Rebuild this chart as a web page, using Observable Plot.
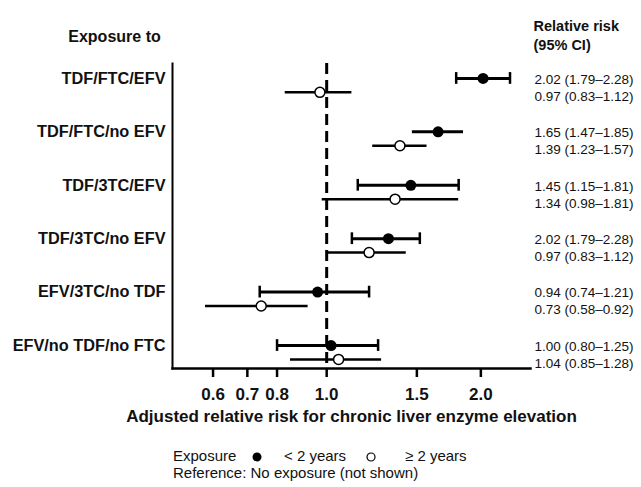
<!DOCTYPE html>
<html>
<head>
<meta charset="utf-8">
<script src="https://cdn.jsdelivr.net/npm/d3@7"></script>
<script src="https://cdn.jsdelivr.net/npm/@observablehq/plot@0.6"></script>
<style>
  body { margin: 0; background: #fff; font-family: "Liberation Sans", Arial, sans-serif; color: #111; }
  #wrap { position: relative; width: 641px; height: 487px; }
  #legend { position: absolute; left: 0; top: 447px; width: 641px; font-size: 15px; line-height: 18px; }
  #legend span, #legend svg { position: absolute; white-space: nowrap; }
</style>
</head>
<body>
<div id="wrap">
  <div id="chart"></div>
  <div id="legend">
    <span style="left:173px;top:0">Exposure</span>
    <svg style="left:252px;top:4.5px" width="10" height="10"><circle cx="5" cy="5" r="4.5" fill="#000"/></svg>
    <span style="left:284px;top:0">&lt; 2 years</span>
    <svg style="left:366px;top:4.5px" width="10" height="10"><circle cx="5" cy="5" r="4" fill="#fff" stroke="#000" stroke-width="1.2"/></svg>
    <span style="left:405px;top:0">≥ 2 years</span>
    <span style="left:173px;top:17px">Reference: No exposure (not shown)</span>
  </div>
</div>
<script>
// Exposure groups (rows, top to bottom)
const groups = ["TDF/FTC/EFV", "TDF/FTC/no EFV", "TDF/3TC/EFV", "TDF/3TC/no EFV", "EFV/3TC/no TDF", "EFV/no TDF/no FTC"];

// < 2 years exposure (filled dots): point estimate and 95% CI as plotted
const rrShort = [2.02, 1.65, 1.46, 1.32, 0.96, 1.02];
const loShort = [1.79, 1.47, 1.15, 1.12, 0.74, 0.80];
const hiShort = [2.28, 1.85, 1.81, 1.52, 1.21, 1.26];
const textShort = ["2.02 (1.79–2.28)", "1.65 (1.47–1.85)", "1.45 (1.15–1.81)", "2.02 (1.79–2.28)", "0.94 (0.74–1.21)", "1.00 (0.80–1.25)"];

// >= 2 years exposure (open circles)
const rrLong = [0.97, 1.39, 1.36, 1.21, 0.745, 1.055];
const loLong = [0.83, 1.23, 0.98, 1.00, 0.58, 0.85];
const hiLong = [1.12, 1.57, 1.81, 1.43, 0.92, 1.28];
const textLong = ["0.97 (0.83–1.12)", "1.39 (1.23–1.57)", "1.34 (0.98–1.81)", "0.97 (0.83–1.12)", "0.73 (0.58–0.92)", "1.04 (0.85–1.28)"];

// rows whose < 2 years interval is drawn without end caps
const uncapped = ["TDF/FTC/no EFV"];

const xTicks = [0.6, 0.7, 0.8, 1.0, 1.5, 2.0];

const OFFSET = 0.26; // open-circle row sits just below the filled one
const short = groups.map((g, i) => ({group: g, y: i, rr: rrShort[i], lo: loShort[i], hi: hiShort[i], text: textShort[i]}));
const long = groups.map((g, i) => ({group: g, y: i + OFFSET, rr: rrLong[i], lo: loLong[i], hi: hiLong[i], text: textLong[i]}));
const capped = short.filter(d => !uncapped.includes(d.group));
const CAP = 0.11;

const chart = Plot.plot({
  width: 641,
  height: 440,
  marginLeft: 172,
  marginRight: 111,
  marginTop: 63,
  marginBottom: 72,
  style: {fontFamily: "'Liberation Sans', Arial, sans-serif", background: "#fff", color: "#111", overflow: "visible"},
  x: {type: "log", domain: [0.5, 2.5]},
  y: {domain: [-0.28, 5.43], reverse: true},
  marks: [
    Plot.ruleX([1], {stroke: "#000", strokeWidth: 3, strokeDasharray: "11,6"}),
    Plot.frame({anchor: "left", stroke: "#000", strokeWidth: 2}),
    Plot.frame({anchor: "bottom", stroke: "#000", strokeWidth: 2.5}),
    Plot.axisX({ticks: xTicks, tickFormat: d3.format(".1f"), tickSize: 9, tickPadding: 10, strokeWidth: 2.5, stroke: "#000", fontSize: 17, fontWeight: "bold", label: null}),
    Plot.axisY({ticks: d3.range(groups.length), tickFormat: i => groups[i], tickSize: 0, tickPadding: 7, fontSize: 16.3, fontWeight: "bold", label: null}),
    // interval lines
    Plot.ruleY(long, {y: "y", x1: "lo", x2: "hi", stroke: "#000", strokeWidth: 2.5}),
    Plot.ruleY(short, {y: "y", x1: "lo", x2: "hi", stroke: "#000", strokeWidth: 3}),
    // end caps
    Plot.ruleX(capped, {x: "lo", y1: d => d.y - CAP, y2: d => d.y + CAP, stroke: "#000", strokeWidth: 2.5}),
    Plot.ruleX(capped, {x: "hi", y1: d => d.y - CAP, y2: d => d.y + CAP, stroke: "#000", strokeWidth: 2.5}),
    // points
    Plot.dot(long, {x: "rr", y: "y", r: 5, fill: "#fff", stroke: "#000", strokeWidth: 1.5}),
    Plot.dot(short, {x: "rr", y: "y", r: 5.5, fill: "#000"}),
    // right-hand text column
    Plot.text(short, {y: "y", text: "text", frameAnchor: "right", textAnchor: "start", dx: 4, dy: 1, fontSize: 13.5, fill: "#111"}),
    Plot.text(long, {y: "y", text: "text", frameAnchor: "right", textAnchor: "start", dx: 4, dy: 4, fontSize: 13.5, fill: "#111"}),
    // column headers
    Plot.text(["Exposure to"], {text: d => d, frameAnchor: "top-left", dx: -58, dy: -33, textAnchor: "middle", fontWeight: "bold", fontSize: 16, fill: "#111"}),
    Plot.text(["Relative risk\n(95% CI)"], {text: d => d, frameAnchor: "top-right", dx: 3, dy: -46, textAnchor: "start", lineAnchor: "top", lineHeight: 1.3, fontWeight: "bold", fontSize: 14.5, fill: "#111"}),
    // x-axis title
    Plot.text(["Adjusted relative risk for chronic liver enzyme elevation"], {text: d => d, frameAnchor: "bottom", dy: 53, fontWeight: "bold", fontSize: 17, fill: "#111"})
  ]
});
document.getElementById("chart").append(chart);
</script>
</body>
</html>
